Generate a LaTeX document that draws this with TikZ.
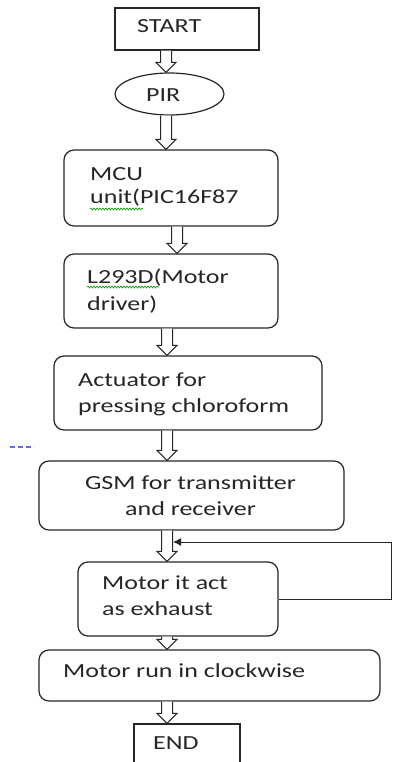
\documentclass[tikz,border=0pt]{standalone}
\usepackage{fontspec}
\setmainfont[FakeStretch=1.3]{Carlito}
\usetikzlibrary{calc,shapes.geometric,arrows.meta,decorations.pathmorphing}
\tikzset{
  box/.style={draw=black!85, line width=1.2pt, inner sep=0pt, rounded corners=10pt},
  sqbox/.style={draw=black!85, line width=1.2pt, inner sep=0pt},
  oval/.style={draw=black!85, line width=1.2pt, inner sep=0pt, ellipse},
  txt/.style={anchor=base west, inner sep=0pt, text=black!85, font=\fontsize{20}{24}\selectfont},
  harrow/.style={draw=black!85, line width=1pt, fill=white, line join=miter},
  fb/.style={draw=black!85, line width=1pt, -{Latex[length=8pt,width=8pt]}},
  squiggle/.style={draw=green!60!black, line width=0.6pt, decorate, decoration={snake, amplitude=1pt, segment length=3pt}}
}
\newcommand\harr[3]{%
  \path (#3,0 |- #1.south) coordinate (hs) (#3,0 |- #2.north) coordinate (ht);
  \draw[harrow] ($(hs)+(-5.5,0)$) -- ($(ht)+(-5.5,-10)$) -- ($(ht)+(-10,-10)$) -- (ht)
     -- ($(ht)+(10,-10)$) -- ($(ht)+(5.5,-10)$) -- ($(hs)+(5.5,0)$);}
\begin{document}
\begin{tikzpicture}[x=1pt,y=-1pt]
\clip (0,0) rectangle (392,762);
\fill[white] (0,0) rectangle (392,762);
% boxes
\node[sqbox, minimum width=144pt, minimum height=42pt] (start) at (187,29) {};
\node[oval, minimum width=109pt, minimum height=42pt] (pir) at (169.5,94) {};
\node[box, minimum width=214pt, minimum height=76pt] (mcu) at (171,188) {};
\node[box, minimum width=214pt, minimum height=74pt] (drv) at (171,291) {};
\node[box, minimum width=268pt, minimum height=74pt] (act) at (188,393) {};
\node[box, minimum width=305pt, minimum height=69pt] (gsm) at (191.5,495.5) {};
\node[box, minimum width=200pt, minimum height=74pt] (mot) at (178,599) {};
\node[box, minimum width=341pt, minimum height=51pt] (run) at (209.5,675.5) {};
\node[sqbox, minimum width=106pt, minimum height=51pt] (end) at (187,749.5) {};
% texts
\node[txt] (t1) at (137,33) {START};
\node[txt] (t2) at (146,102) {PIR};
\node[txt] (t3) at (90,180) {MCU};
\node[txt] (t4) at (90,204) {unit(PIC16F87};
\node[txt] (t5) at (87,283) {L293D(Motor};
\node[txt] (t6) at (87,310) {driver)};
\node[txt] (t7) at (78,386) {Actuator for};
\node[txt] (t8) at (78,412) {pressing chloroform};
\node[txt, anchor=base] (t9) at (190.5,489) {GSM for transmitter};
\node[txt, anchor=base] (t10) at (190.5,515) {and receiver};
\node[txt] (t11) at (102,589) {Motor it act};
\node[txt] (t12) at (102,615) {as exhaust};
\node[txt] (t13) at (63,677) {Motor run in clockwise};
\node[txt] (t14) at (153,749) {END};
% spell-check underlines
\draw[squiggle] (90,209) -- (143,209);
\draw[squiggle] (87,287) -- (159,287);
% blue dash mark
\draw[blue!60, line width=1.2pt, dash pattern=on 5pt off 3pt] (10,447) -- (34,447);
% hollow arrows
\harr{start}{pir}{166}
\harr{pir}{mcu}{166}
\harr{mcu}{drv}{177}
\harr{drv}{act}{167}
\harr{act}{gsm}{167}
\harr{gsm}{mot}{167}
\harr{mot}{run}{167}
\harr{run}{end}{167}
% feedback loop
\coordinate (fbr) at (391,542);
\coordinate (fbin) at (173,542);
\draw[fb] (mot.east) -| (fbr) -- (fbin);
\end{tikzpicture}
\end{document}
